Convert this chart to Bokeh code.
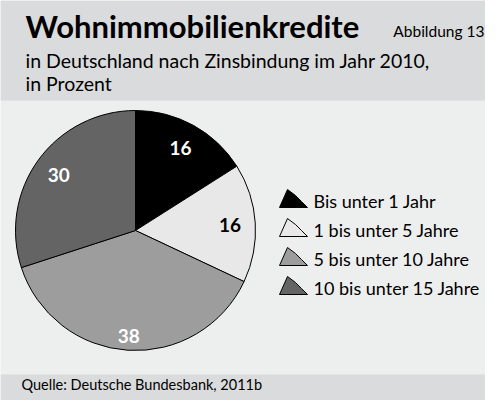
import math
from bokeh.plotting import figure
from bokeh.models import Range1d
from bokeh.core.properties import value
from bokeh.embed import file_html
from bokeh.resources import INLINE

# ---- data ----
categories = ["Bis unter 1 Jahr", "1 bis unter 5 Jahre", "5 bis unter 10 Jahre", "10 bis unter 15 Jahre"]
values = [16, 16, 38, 30]
labels = ["16", "16", "38", "30"]

title = "Wohnimmobilienkredite"
figure_no = "Abbildung 13"
subtitle = ["in Deutschland nach Zinsbindung im Jahr 2010,", "in Prozent"]
source = "Quelle: Deutsche Bundesbank, 2011b"

# ---- styles / layout ----
colors = ["#000000", "#e8e8e8", "#9d9d9e", "#646464"]
label_colors = ["#ffffff", "#000000", "#ffffff", "#ffffff"]
label_radius = [0.78, 0.79, 0.88, 0.79]
FONT = "Lato"
W, H = 485, 400
HEADER_BG = "#dadbdc"
BODY_BG = "#edeeee"

def Y(top):
    return H - top

def mid(baseline, size):
    # y (from top) of the em-box middle for a given alphabetic baseline
    return baseline - 0.3225 * size

p = figure(width=W, height=H, output_backend="svg", toolbar_location=None,
           x_range=Range1d(0, W), y_range=Range1d(0, H), min_border=0,
           outline_line_color=None, background_fill_color=BODY_BG,
           border_fill_color=BODY_BG)
p.axis.visible = False
p.grid.visible = False

# bands
p.quad(left=[0], right=[W], top=[Y(0)], bottom=[Y(100)], fill_color=HEADER_BG, line_color=None)
p.quad(left=[0], right=[W], top=[Y(374)], bottom=[Y(400)], fill_color=HEADER_BG, line_color=None)

# header texts
p.text(x=[25], y=[Y(mid(35, 31))], text=[title], text_font=value(FONT), text_font_style="bold",
       text_font_size="31px", text_color="#000000", text_baseline="middle")
p.text(x=[484], y=[Y(mid(35, 15.5))], text=[figure_no], text_font=value(FONT),
       text_font_size="15.5px", text_color="#000000", text_baseline="middle", text_align="right")
p.text(x=[25, 25], y=[Y(mid(66, 19.5)), Y(mid(89, 19.5))], text=subtitle, text_font=value(FONT),
       text_font_size="19.5px", text_color="#000000", text_baseline="middle")

# pie
cx, cy, r = 135, Y(230), 120
total = float(sum(values))
cum = 0.0
starts, ends, lx, ly = [], [], [], []
for i, v in enumerate(values):
    a0 = cum / total
    cum += v
    a1 = cum / total
    starts.append(math.pi / 2 - 2 * math.pi * a0)
    ends.append(math.pi / 2 - 2 * math.pi * a1)
    m = 2 * math.pi * (a0 + a1) / 2
    d = r * label_radius[i]
    lx.append(cx + d * math.sin(m))
    ly.append(cy + d * math.cos(m))

p.wedge(x=[cx] * 4, y=[cy] * 4, radius=r, start_angle=starts, end_angle=ends,
        direction="clock", fill_color=colors, line_color="#000000", line_width=1)
p.text(x=lx, y=ly, text=labels, text_font=value(FONT), text_font_style="bold",
       text_font_size="19px", text_color=label_colors, text_align="center", text_baseline="middle")

# legend
lg_x, lg_top, lg_step = 279, 207, 29
icon_xs, icon_ys, tx, ty = [], [], [], []
for i, c in enumerate(categories):
    bt = lg_top + lg_step * i
    b = Y(bt)
    xs = [lg_x, lg_x + 8, lg_x + 16, lg_x + 22, lg_x + 28]
    ys = [b, b + 18, b + 12, b + 6, b]
    icon_xs.append(xs)
    icon_ys.append(ys)
    tx.append(lg_x + 34)
    ty.append(Y(mid(bt - 1, 18)))
p.patches(xs=icon_xs, ys=icon_ys, fill_color=colors, line_color="#000000", line_width=1)
p.text(x=tx, y=ty, text=categories, text_font=value(FONT), text_font_size="18px",
       text_color="#000000", text_baseline="middle")

# footer
p.text(x=[21], y=[Y(mid(389, 14.5))], text=[source], text_font=value(FONT), text_font_size="14.5px",
       text_color="#000000", text_baseline="middle")

open("out.html", "w").write(file_html(p, INLINE))
